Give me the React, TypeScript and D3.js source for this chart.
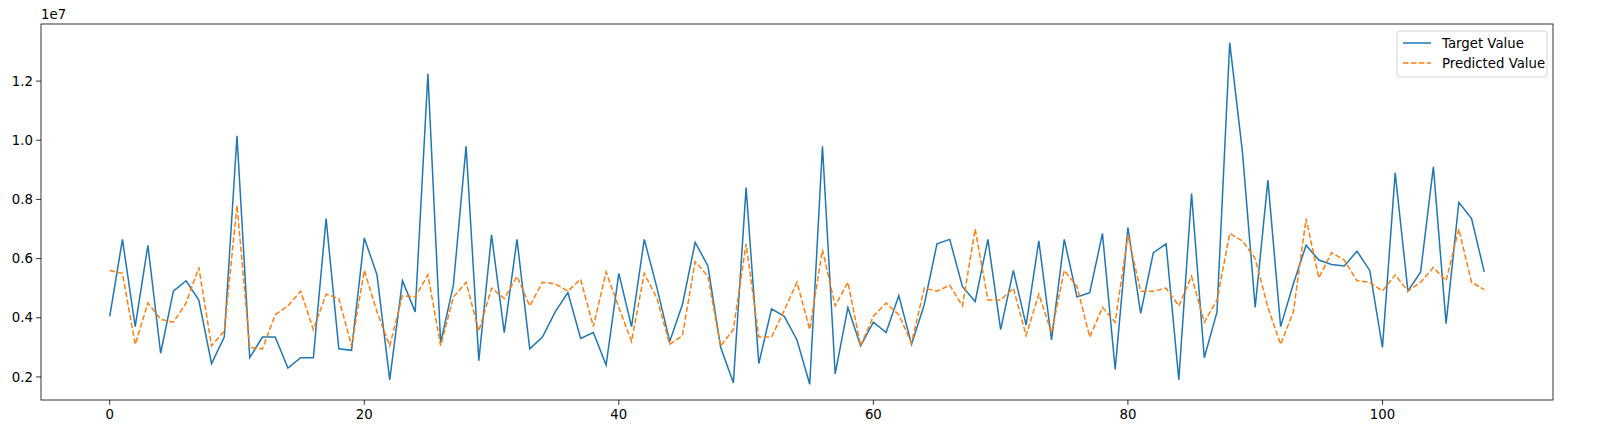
import * as d3 from "d3";

// values in units of 1e6
const target = [
  4.05, 6.65, 3.7, 6.45, 2.8, 4.9, 5.25, 4.6, 2.45, 3.35,
  10.15, 2.65, 3.35, 3.35, 2.3, 2.65, 2.65, 7.35, 2.95, 2.9,
  6.7, 5.45, 1.9, 5.25, 4.2, 12.25, 3.15, 5.1, 9.8, 2.55,
  6.8, 3.5, 6.65, 2.95, 3.35, 4.2, 4.85, 3.3, 3.5, 2.4,
  5.5, 3.7, 6.65, 5.0, 3.2, 4.45, 6.55, 5.75, 3.0, 1.8,
  8.4, 2.45, 4.3, 4.05, 3.25, 1.75, 9.8, 2.1, 4.35, 3.05,
  3.85, 3.5, 4.75, 3.1, 4.45, 6.5, 6.65, 5.05, 4.55, 6.65,
  3.6, 5.6, 3.75, 6.6, 3.25, 6.65, 4.7, 4.85, 6.85, 2.25,
  7.05, 4.15, 6.2, 6.5, 1.9, 8.2, 2.65, 4.2, 13.3, 9.6,
  4.35, 8.65, 3.7, 5.15, 6.45, 5.95, 5.8, 5.75, 6.25, 5.6,
  3.0, 8.9, 4.9, 5.55, 9.1, 3.8, 7.9, 7.35, 5.55,
];
const predicted = [
  5.6, 5.5, 3.1, 4.5, 3.95, 3.85, 4.5, 5.7, 3.05, 3.55,
  7.8, 3.0, 2.95, 4.1, 4.4, 4.9, 3.6, 4.8, 4.65, 3.05,
  5.6, 4.2, 3.05, 4.75, 4.7, 5.45, 3.05, 4.7, 5.2, 3.55,
  5.0, 4.65, 5.4, 4.4, 5.2, 5.15, 4.9, 5.3, 3.7, 5.55,
  4.35, 3.2, 5.5, 4.65, 3.1, 3.4, 5.9, 5.4, 3.05, 3.6,
  6.5, 3.35, 3.35, 4.25, 5.2, 3.6, 6.3, 4.4, 5.2, 3.05,
  4.05, 4.5, 4.1, 3.15, 5.0, 4.9, 5.1, 4.4, 7.0, 4.6,
  4.6, 5.0, 3.4, 4.8, 3.5, 5.6, 5.05, 3.35, 4.35, 3.85,
  6.8, 4.9, 4.9, 5.0, 4.4, 5.4, 3.85, 4.6, 6.85, 6.6,
  6.0, 4.35, 3.1, 4.2, 7.35, 5.35, 6.2, 5.95, 5.25, 5.2,
  4.9, 5.45, 4.9, 5.2, 5.7, 5.25, 7.0, 5.2, 4.95,
];
const xTicks = [0, 20, 40, 60, 80, 100];
const yTicks = [2, 4, 6, 8, 10, 12];

const W = 1601, H = 443;
const L = 41, R = 1553, T = 24, B = 400;
const font = "DejaVu Sans, sans-serif";

export default function App() {
  const x = d3.scaleLinear().domain([-5.4, 113.4]).range([L, R]);
  const y = d3.scaleLinear().domain([1.22, 13.93]).range([B, T]);
  const line = d3.line<number>().x((_d, i) => x(i)).y((d) => y(d));

  return (
    <div style={{ position: "fixed", left: 0, top: 0 }}>
      <svg width={W} height={H} style={{ display: "block", background: "#fff" }}>
        <path d={line(target) ?? ""} fill="none" stroke="#1f77b4" strokeWidth={1.5} />
        <path d={line(predicted) ?? ""} fill="none" stroke="#ff7f0e" strokeWidth={1.5} strokeDasharray="5.5,2.4" />
        <rect x={L} y={T} width={R - L} height={B - T} fill="none" stroke="#000" strokeWidth={0.8} />
        {xTicks.map((t) => (
          <g key={t} transform={`translate(${x(t)},${B})`}>
            <line y2={4.9} stroke="#000" strokeWidth={0.8} />
            <text y={19} textAnchor="middle" fontFamily={font} fontSize={13.3}>{t}</text>
          </g>
        ))}
        {yTicks.map((t) => (
          <g key={t} transform={`translate(${L},${y(t)})`}>
            <line x2={-4.9} stroke="#000" strokeWidth={0.8} />
            <text x={-8} dy="0.35em" textAnchor="end" fontFamily={font} fontSize={13.3}>{(t / 10).toFixed(1)}</text>
          </g>
        ))}
        <text x={L} y={T - 5} fontFamily={font} fontSize={13.3}>1e7</text>
        <g transform="translate(1397,31)">
          <rect width={150} height={46} rx={3} fill="#fff" fillOpacity={0.8} stroke="#ccc" strokeWidth={0.8} />
          <line x1={6} x2={34} y1={12} y2={12} stroke="#1f77b4" strokeWidth={1.5} />
          <text x={45} y={16.5} fontFamily={font} fontSize={13.3}>Target Value</text>
          <line x1={6} x2={34} y1={32} y2={32} stroke="#ff7f0e" strokeWidth={1.5} strokeDasharray="5.5,2.4" />
          <text x={45} y={36.5} fontFamily={font} fontSize={13.3}>Predicted Value</text>
        </g>
      </svg>
    </div>
  );
}
